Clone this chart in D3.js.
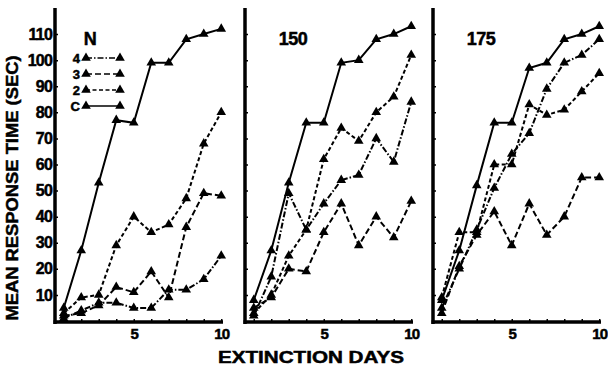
<!DOCTYPE html>
<html><head><meta charset="utf-8">
<script src="https://cdn.jsdelivr.net/npm/d3@7"></script>
<style>
html,body{margin:0;padding:0;background:#fff;}
svg{display:block;}
text{font-family:"Liberation Sans",Arial,sans-serif;font-weight:bold;fill:#000;stroke:#000;stroke-width:0.5px;}
</style></head>
<body><svg id="chart" width="608" height="368"></svg>
<script>
const days = [1, 2, 3, 4, 5, 6, 7, 8, 9, 10];
const panelTitles = ["N", "150", "175"];
const legendKeys = ["4", "3", "2", "C"];
const yTickValues = [10, 20, 30, 40, 50, 60, 70, 80, 90, 100, 110];
const xTickLabels = [5, 10];

// Panel N
const nC = [5, 27, 53, 77, 76, 99, 99, 108, 110, 112];
const n2 = [3, 9, 10, 29, 40, 34, 37, 47, 68, 80];
const n3 = [2, 3, 6, 13, 11, 19, 9, 36, 49, 48];
const n4 = [1, 4, 7, 7, 5, 5, 12, 12, 16, 25];
// Panel 150
const mC = [8, 27, 53, 76, 76, 99, 100, 108, 110, 113];
const m2 = [3, 10, 25, 35, 62, 74, 69, 80, 86, 102];
const m3 = [5, 9, 20, 19, 34, 45, 29, 40, 32, 46];
const m4 = [2, 17, 49, 35, 45, 54, 56, 70, 61, 84];
// Panel 175
const hC = [8, 27, 52, 76, 76, 97, 99, 108, 110, 113];
const h2 = [9, 34, 34, 60, 60, 83, 79, 81, 88, 95];
const h3 = [3, 21, 33, 42, 29, 45, 33, 40, 55, 55];
const h4 = [5, 20, 35, 51, 64, 72, 89, 99, 102, 108];

const panelData = [
  {C: nC, "2": n2, "3": n3, "4": n4},
  {C: mC, "2": m2, "3": m3, "4": m4},
  {C: hC, "2": h2, "3": h3, "4": h4}
];
const dashes = {C: null, "2": "4,2.5", "3": "6,3", "4": "6,2,1.5,2"};

const svg = d3.select("#chart");
svg.append("rect").attr("width", 608).attr("height", 368).attr("fill", "#fff");

const panelX = [55, 245, 433];
const panelW = 168;
const x = d3.scaleLinear().domain([0.5, 10.1]).range([0, panelW]);
const y = d3.scaleLinear().domain([0, 120]).range([321, 8]);
const tri = d3.symbol().type(d3.symbolTriangle).size(40);
const line = d3.line().x((d, i) => x(days[i])).y(d => y(d));

panelX.forEach((px, p) => {
  const g = svg.append("g").attr("transform", `translate(${px},0)`);

  // y axis
  const ya = d3.axisLeft(y).tickValues(yTickValues).tickSizeInner(-3).tickSizeOuter(0).tickPadding(3)
    .tickFormat(p === 0 ? d3.format("d") : () => "");
  const yg = g.append("g").call(ya);
  yg.select(".domain").attr("stroke", "#000").attr("stroke-width", 3.5)
    .attr("d", `M0,${y(120)}V${y(0) + 3}`);
  yg.selectAll(".tick line").attr("stroke", "#000").attr("stroke-width", 1.5).attr("x1", 1);
  yg.selectAll(".tick text").attr("font-size", 16).attr("letter-spacing", "-0.8px")
    .attr("font-family", "Liberation Sans, Arial, sans-serif").attr("font-weight", "bold");

  // x axis
  const xa = d3.axisBottom(x).tickValues(days).tickSizeInner(-3).tickSizeOuter(0).tickPadding(6)
    .tickFormat(d => xTickLabels.includes(d) ? d : "");
  const xg = g.append("g").attr("transform", `translate(0,${y(0) + 1})`).call(xa);
  xg.select(".domain").attr("stroke", "#000").attr("stroke-width", 3.5)
    .attr("d", `M-1.5,0H${panelW}`);
  xg.selectAll(".tick line").attr("stroke", "#000").attr("stroke-width", 1.5);
  xg.selectAll(".tick text").attr("font-size", 15).attr("letter-spacing", "-0.8px")
    .attr("font-family", "Liberation Sans, Arial, sans-serif").attr("font-weight", "bold");

  // title
  g.append("text").attr("x", p === 0 ? 35 : 48).attr("y", 45)
    .attr("text-anchor", "middle").attr("font-size", 18).attr("letter-spacing", "-0.5px")
    .text(panelTitles[p]);

  // series
  ["4", "3", "2", "C"].forEach(k => {
    const vals = panelData[p][k];
    g.append("path").datum(vals).attr("d", line).attr("fill", "none")
      .attr("stroke", "#000").attr("stroke-width", 2)
      .attr("stroke-dasharray", dashes[k]);
    g.selectAll(null).data(vals).enter().append("path")
      .attr("d", tri)
      .attr("transform", (d, i) => `translate(${x(days[i])},${y(d)})`)
      .attr("fill", "#000");
  });

  // legend in first panel
  if (p === 0) {
    const legY = [58, 74, 90, 106];
    legendKeys.forEach((k, i) => {
      const ly = legY[i];
      g.append("text").attr("x", 25).attr("y", ly + 5).attr("text-anchor", "end")
        .attr("font-size", 13).text(k);
      g.append("line").attr("x1", 31).attr("x2", 65).attr("y1", ly).attr("y2", ly)
        .attr("stroke", "#000").attr("stroke-width", 1.6).attr("stroke-dasharray", dashes[k]);
      [31, 65].forEach(lx => {
        g.append("path").attr("d", tri).attr("transform", `translate(${lx},${ly})`).attr("fill", "#000");
      });
    });
  }
});

// axis titles
svg.append("text").attr("transform", "translate(18,188) rotate(-90)")
  .attr("text-anchor", "middle").attr("font-size", 16)
  .attr("textLength", 265).attr("lengthAdjust", "spacingAndGlyphs")
  .text("MEAN RESPONSE TIME (SEC)");
svg.append("text").attr("x", 311).attr("y", 363)
  .attr("text-anchor", "middle").attr("font-size", 17)
  .attr("textLength", 186).attr("lengthAdjust", "spacingAndGlyphs")
  .text("EXTINCTION DAYS");
</script></body></html>
